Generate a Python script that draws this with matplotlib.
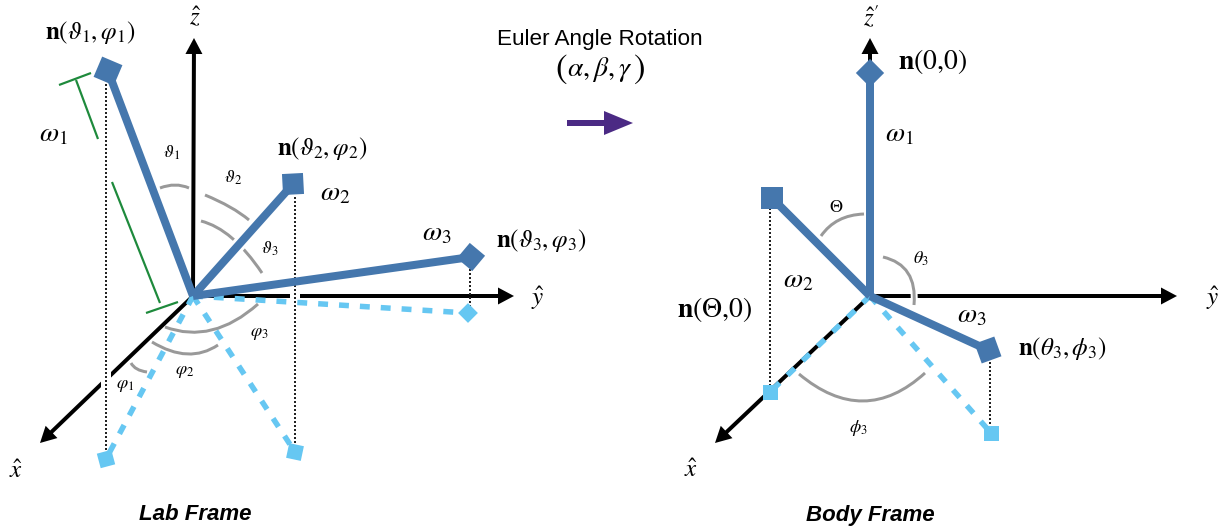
import numpy as np
import matplotlib
matplotlib.use('Agg')
import matplotlib.pyplot as plt
import matplotlib.patheffects as pe
from matplotlib.patches import Polygon, PathPatch
from matplotlib.path import Path

plt.rcParams['mathtext.fontset'] = 'stix'
plt.rcParams['font.family'] = ['Liberation Sans', 'DejaVu Sans']

BLUE = '#4577AD'
LIGHT = '#66C7F2'
GRAY = '#999999'
GREEN = '#1E8A3C'
PURPLE = '#4B2A84'

lab_origin = (193, 296)
lab_axes = [(194, 38), (514, 296), (40, 443)]
lab_ends = [(108, 71), (293, 184), (471, 257)]
lab_end_sizes = [22, 21, 20]
lab_end_angles = [23, -3, 40]
lab_proj = [(106, 459), (295, 452), (468, 313)]
lab_proj_sizes = [15, 15, 14]
lab_proj_angles = [-15, 12, 45]
# x, top, bottom, cut the axis behind it
lab_drops = [(106, 84, 450, True), (295, 197, 445, True), (470, 269, 306, False)]

lab_arcs = [
    [(160, 188), (175, 185), (189, 188)],
    [(205, 195), (230, 207), (249, 220)],
    [(201, 221), (232, 238), (262, 273)],
    [(131, 363), (137, 369), (147, 372)],
    [(152, 342), (187, 354), (218, 345)],
    [(165, 327), (212, 330), (258, 304)],
]
green_lines = [
    [(59, 85), (91, 73)],
    [(76, 80), (98, 139)],
    [(112, 182), (160, 303)],
    [(146, 313), (178, 302)],
]

body_origin = (870, 296)
body_axes = [(870, 38), (1177, 296), (715, 443)]
body_ends = [(870, 73), (772, 198), (988, 350)]
body_end_sizes = [20, 22, 21]
body_end_angles = [45, 0, -20]
body_proj = [(770, 392), (991, 433)]
body_proj_sizes = [15, 15]
body_proj_angles = [0, 0]
body_drops = [(770, 208, 385, False), (990, 362, 426, False)]
body_arcs = [
    [(821, 236), (839, 220), (864, 214)],
    [(883, 257), (908, 273), (914, 305)],
    [(799, 374), (863, 401), (925, 373)],
]

math_labels = [
    (90, 33, r'$\mathbf{n}(\vartheta_1,\varphi_1)$', 18),
    (322, 148, r'$\mathbf{n}(\vartheta_2,\varphi_2)$', 18),
    (541, 240, r'$\mathbf{n}(\vartheta_3,\varphi_3)$', 18),
    (53, 134, r'$\omega_1$', 20),
    (335, 193, r'$\omega_2$', 20),
    (437, 233, r'$\omega_3$', 20),
    (172, 153, r'$\vartheta_1$', 13),
    (233, 178, r'$\vartheta_2$', 13),
    (270, 249, r'$\vartheta_3$', 13),
    (125, 386, r'$\varphi_1$', 13),
    (185, 372, r'$\varphi_2$', 13),
    (259, 333, r'$\varphi_3$', 13),
    (195, 18, r'$\hat{z}$', 18),
    (538, 298, r'$\hat{y}$', 18),
    (16, 471, r'$\hat{x}$', 18),
    (600, 70, r'$\alpha,\beta,\gamma$', 20),
    (561, 69, r'$($', 25),
    (639, 69, r'$)$', 25),
    (933, 62, r'$\mathbf{n}(0{,}0)$', 20),
    (715, 310, r'$\mathbf{n}(\Theta{,}0)$', 20),
    (1062, 349, r'$\mathbf{n}(\theta_3,\phi_3)$', 18),
    (899, 134, r'$\omega_1$', 20),
    (798, 280, r'$\omega_2$', 20),
    (972, 315, r'$\omega_3$', 20),
    (836, 208, r'$\Theta$', 13),
    (921, 259, r'$\theta_3$', 13),
    (858, 428, r'$\phi_3$', 13),
    (871, 18, r"$\hat{z}'$", 18),
    (1213, 298, r'$\hat{y}$', 18),
    (691, 470, r'$\hat{x}$', 18),
]


def px(w):
    # stroke width in pixels to points
    return w * 72 / 100


def square(ax, centre, side, angle, color, z):
    t = np.radians(angle)
    d = side / 2 * np.array([[-1, -1], [1, -1], [1, 1], [-1, 1]])
    rot = np.array([[np.cos(t), -np.sin(t)], [np.sin(t), np.cos(t)]])
    ax.add_patch(Polygon(d @ rot.T + np.array(centre), closed=True, fc=color, ec='none', zorder=z))


def curve(ax, pts, z=2):
    s, m, e = [np.array(p, float) for p in pts]
    c = 2 * m - (s + e) / 2
    patch = PathPatch(Path([s, c, e], [Path.MOVETO, Path.CURVE3, Path.CURVE3]),
                      fc='none', ec=GRAY, lw=px(3), capstyle='butt', zorder=z)
    ax.add_patch(patch)
    return patch


def axis_arrow(ax, origin, tip):
    dx, dy = tip[0] - origin[0], tip[1] - origin[1]
    ax.arrow(origin[0], origin[1], dx, dy, width=4, head_width=17, head_length=16,
             length_includes_head=True, fc='k', ec='none', zorder=3)


def spokes(ax, origin, pts, color, w, style, z):
    for p in pts:
        ax.plot([origin[0], p[0]], [origin[1], p[1]], color=color, lw=px(w), ls=style,
                solid_capstyle='butt', dash_capstyle='butt', zorder=z)


def drops(ax, items):
    for x, y0, y1, cut in items:
        if cut:
            ax.plot([x, x], [y0, y1], color='white', lw=px(10), solid_capstyle='butt', zorder=4)
        ax.plot([x, x], [y0, y1], color='#222222', lw=px(2), ls=(0, (1, 1)), zorder=4.5)


fig = plt.figure(figsize=(12.3, 5.29), dpi=100)
ax = fig.add_axes([0, 0, 1, 1])
ax.set_xlim(0, 1230)
ax.set_ylim(529, 0)
ax.axis('off')

# lab frame
for a in lab_arcs:
    curve(ax, a)
ax.plot([lab_origin[0], lab_ends[1][0]], [lab_origin[1], lab_ends[1][1]], color='white',
        lw=px(14), solid_capstyle='butt', zorder=2.5)
for tip in lab_axes:
    axis_arrow(ax, lab_origin, tip)
drops(ax, lab_drops)
for g in green_lines:
    ax.plot([g[0][0], g[1][0]], [g[0][1], g[1][1]], color=GREEN, lw=px(2.2), solid_capstyle='butt', zorder=2)
spokes(ax, lab_origin, lab_proj, LIGHT, 5.5, (0, (1.8, 2)), 5)
spokes(ax, lab_origin, lab_ends, BLUE, 8, '-', 6)
for c, s, a in zip(lab_ends, lab_end_sizes, lab_end_angles):
    square(ax, c, s, a, BLUE, 6)
for c, s, a in zip(lab_proj, lab_proj_sizes, lab_proj_angles):
    square(ax, c, s, a, LIGHT, 5)

# body frame
for tip in body_axes:
    axis_arrow(ax, body_origin, tip)
drops(ax, body_drops)
for a in body_arcs:
    p = curve(ax, a, z=3.5)
    # theta_3 arc sits in a white gap where it crosses the y axis
    p.set_path_effects([pe.withStroke(linewidth=px(7), foreground='white')])
spokes(ax, body_origin, body_proj, LIGHT, 5.5, (0, (1.8, 2)), 5)
spokes(ax, body_origin, body_ends, BLUE, 8, '-', 6)
for c, s, a in zip(body_ends, body_end_sizes, body_end_angles):
    square(ax, c, s, a, BLUE, 6)
for c, s, a in zip(body_proj, body_proj_sizes, body_proj_angles):
    square(ax, c, s, a, LIGHT, 5)

# rotation arrow
ax.arrow(567, 123, 66, 0, width=6, head_width=24, head_length=29,
         length_includes_head=True, fc=PURPLE, ec='none', zorder=3)

for x, y, s, fs in math_labels:
    ax.text(x, y, s, fontsize=fs, ha='center', va='center', color='k', zorder=8)

ax.text(600, 39, 'Euler Angle Rotation', fontsize=16.2, ha='center', va='center')
ax.text(195, 515, 'Lab Frame', fontsize=16, fontweight='bold', fontstyle='italic', ha='center', va='center')
ax.text(870, 515, 'Body Frame', fontsize=16, fontweight='bold', fontstyle='italic', ha='center', va='center')

fig.savefig('out.png', dpi=100)
